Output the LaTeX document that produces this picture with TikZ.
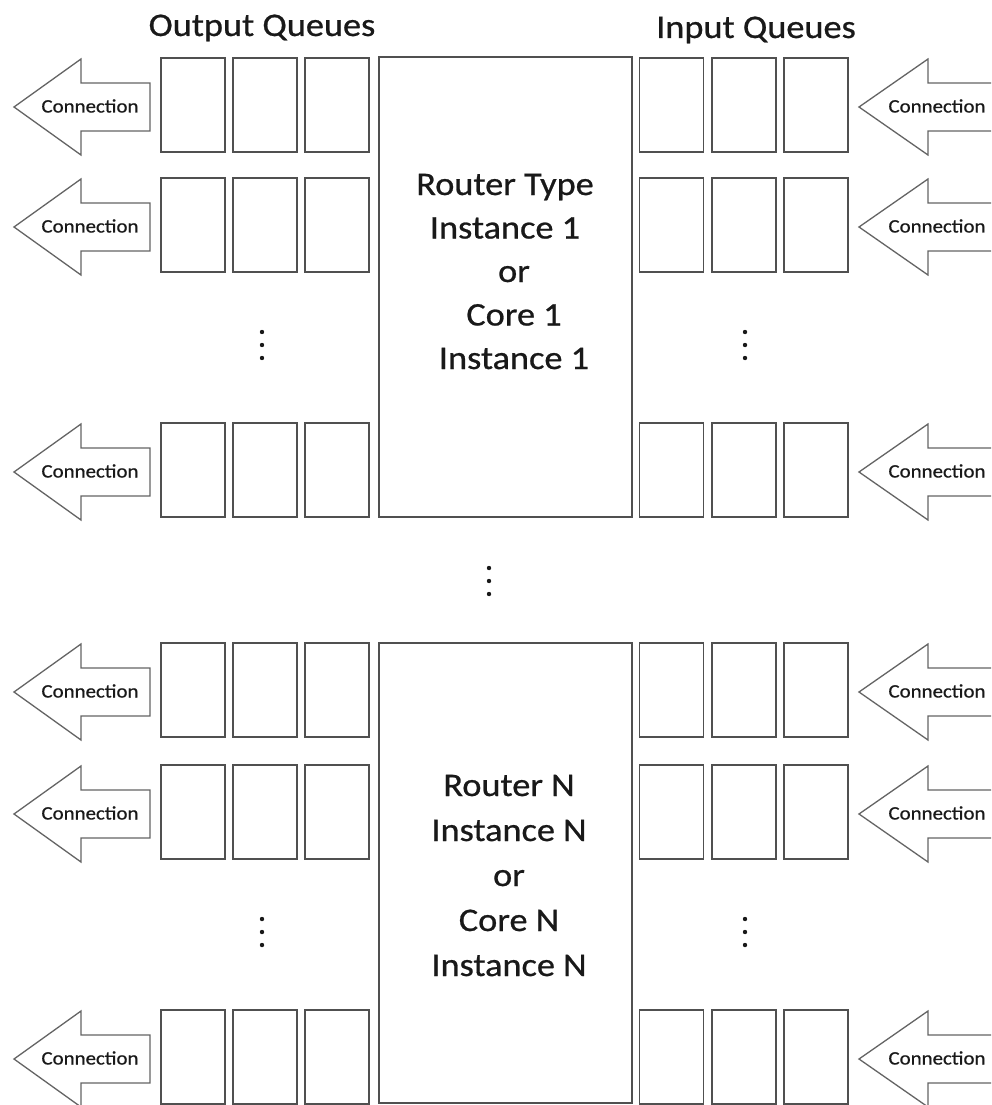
\documentclass[tikz,border=0pt]{standalone}
\usepackage{fontspec}
\setmainfont{Carlito}[FakeStretch=1.1, FakeBold=0.7]
\definecolor{boxline}{RGB}{80,80,80}
\definecolor{arrowline}{RGB}{100,100,100}
\definecolor{ink}{RGB}{25,25,25}
\begin{document}
\begin{tikzpicture}[x=1pt,y=-1pt,
  queue/.style={draw=boxline, line width=1.9pt, minimum width=64pt, minimum height=94pt, inner sep=0pt},
  router/.style={draw=boxline, line width=1.9pt, minimum width=253pt, minimum height=460pt, inner sep=0pt},
  conn/.style={draw=arrowline, line width=1.3pt, fill=white, line join=miter},
  connlabel/.style={text=ink, font=\fontsize{19}{22}\selectfont, inner sep=0pt},
  title/.style={text=ink, font=\fontsize{33}{40}\selectfont, inner sep=0pt, anchor=base},
  rline/.style={text=ink, font=\fontsize{33}{40}\selectfont, inner sep=0pt, anchor=base},
  dot/.style={fill=ink}]
\path[use as bounding box, clip] (0,0) rectangle (991,1105);
\fill[white] (0,0) rectangle (991,1105);

% column headings
\node[title] (outq) at (262,36) {Output Queues};
\node[title] (inq) at (756,38) {Input Queues};

% the two router / core blocks
\node[router] (r1) at (505.5,287) {};
\node[router] (r2) at (505.5,873) {};

% block texts, one node per line
\foreach \t/\dx [count=\i] in {Router Type/0, Instance 1/0, or/9, Core 1/9, Instance 1/9}
  \node[rline] (ra\i) at ({505+\dx},{195+43.5*(\i-1)}) {\t};
\foreach \t [count=\i] in {Router N, Instance N, or, Core N, Instance N}
  \node[rline] (rb\i) at (509,{796+45*(\i-1)}) {\t};

% queue rows: three output slots on the left, three input slots on the right
\foreach \yc [count=\r] in {105,225,470,690,812,1057} {
  \foreach \xc [count=\k] in {193,265,337}
    \node[queue] (out\r-\k) at (\xc,\yc) {};
  \foreach \xc [count=\k] in {671.5,744,816}
    \node[queue] (in\r-\k) at (\xc,\yc) {};
  % outgoing connection arrow
  \draw[conn] (150,\yc+2-24) -- (81,\yc+2-24) -- (81,\yc+2-48) -- (14,\yc+2)
     -- (81,\yc+2+48) -- (81,\yc+2+24) -- (150,\yc+2+24) -- cycle;
  \node[connlabel] (cl\r) at (90,\yc+1) {Connection};
  % incoming connection arrow
  \draw[conn] (1000,\yc+2-24) -- (928,\yc+2-24) -- (928,\yc+2-48) -- (859,\yc+2)
     -- (928,\yc+2+48) -- (928,\yc+2+24) -- (1000,\yc+2+24);
  \node[connlabel] (cr\r) at (937,\yc+1) {Connection};
}

% ellipses for omitted queues and blocks
\foreach \x/\y in {262/332, 745/332, 262/919, 745/919, 489/568}
  \foreach \j in {0,1,2}
    \fill[dot] (\x,\y+13*\j) circle (2.2);
\end{tikzpicture}
\end{document}
